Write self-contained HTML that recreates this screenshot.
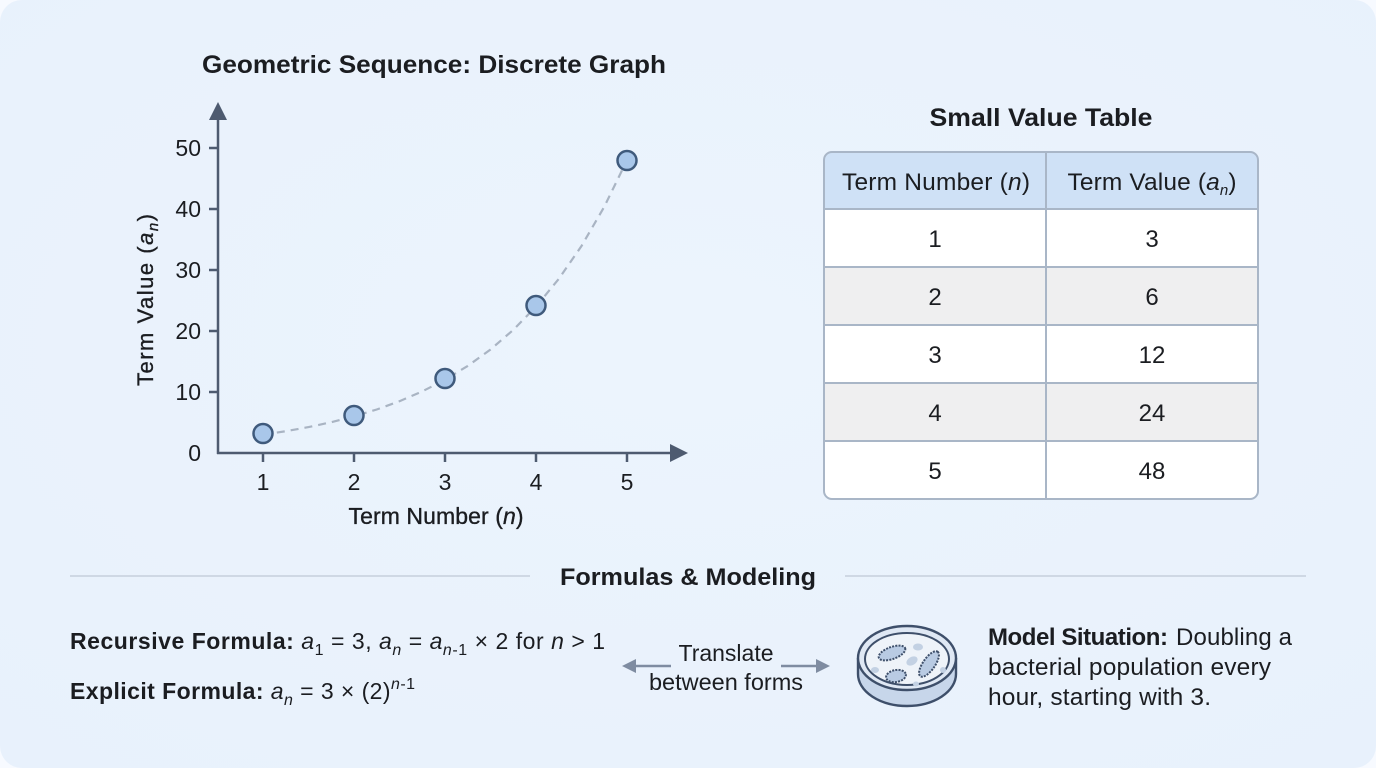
<!DOCTYPE html>
<html>
<head>
<meta charset="utf-8">
<style>
  html,body{margin:0;padding:0;background:#f7faff;}
  body{width:1376px;height:768px;overflow:hidden;}
  svg{display:block;}
  text{font-family:"Liberation Sans",Arial,sans-serif;fill:#1b1d21;}
</style>
</head>
<body>
<svg width="1376" height="768" viewBox="0 0 1376 768" xmlns="http://www.w3.org/2000/svg">
  <defs>
    <radialGradient id="bg" cx="50%" cy="45%" r="75%">
      <stop offset="0" stop-color="#ecf4fd"/>
      <stop offset="1" stop-color="#e8f1fc"/>
    </radialGradient>
  </defs>
  <rect x="0" y="0" width="1376" height="768" rx="22" ry="22" fill="url(#bg)"/>

  <!-- Chart title -->
  <text x="434" y="73" font-size="25" font-weight="bold" text-anchor="middle" textLength="464" lengthAdjust="spacingAndGlyphs">Geometric Sequence: Discrete Graph</text>

  <!-- Axes -->
  <g stroke="#4e5b70" stroke-width="2.5" fill="none">
    <line x1="218" y1="454" x2="218" y2="114"/>
    <line x1="217" y1="453" x2="674" y2="453"/>
    <line x1="209" y1="392" x2="218" y2="392"/>
    <line x1="209" y1="331" x2="218" y2="331"/>
    <line x1="209" y1="270" x2="218" y2="270"/>
    <line x1="209" y1="209" x2="218" y2="209"/>
    <line x1="209" y1="148" x2="218" y2="148"/>
    <line x1="263" y1="453" x2="263" y2="462"/>
    <line x1="354" y1="453" x2="354" y2="462"/>
    <line x1="445" y1="453" x2="445" y2="462"/>
    <line x1="536" y1="453" x2="536" y2="462"/>
    <line x1="627" y1="453" x2="627" y2="462"/>
  </g>
  <polygon points="218,102 209,120 227,120" fill="#4e5b70"/>
  <polygon points="688,453 670,444 670,462" fill="#4e5b70"/>

  <!-- y tick labels -->
  <g font-size="23" text-anchor="end">
    <text x="201" y="461">0</text>
    <text x="201" y="400">10</text>
    <text x="201" y="339">20</text>
    <text x="201" y="278">30</text>
    <text x="201" y="217">40</text>
    <text x="201" y="156">50</text>
  </g>
  <!-- x tick labels -->
  <g font-size="23" text-anchor="middle">
    <text x="263" y="490">1</text>
    <text x="354" y="490">2</text>
    <text x="445" y="490">3</text>
    <text x="536" y="490">4</text>
    <text x="627" y="490">5</text>
  </g>

  <!-- axis labels -->
  <text x="436" y="524" font-size="23" text-anchor="middle" stroke="#1b1d21" stroke-width="0.35" textLength="175">Term Number (<tspan font-style="italic">n</tspan>)</text>
  <text transform="translate(153,300) rotate(-90)" font-size="22" text-anchor="middle" stroke="#1b1d21" stroke-width="0.35" textLength="172">Term Value (<tspan font-style="italic">a</tspan><tspan font-style="italic" font-size="15" dy="5">n</tspan><tspan dy="-5">)</tspan></text>

  <!-- dashed curve -->
  <polyline fill="none" stroke="#a9b4c3" stroke-width="2.2" stroke-dasharray="8 6"
    points="263,434.7 285.75,431.2 308.5,427.1 331.25,422.2 354,416.4 376.75,409.5 399.5,401.2 422.25,391.4 445,379.8 467.75,365.9 490.5,349.5 513.25,329.9 536,306.6 558.75,278.9 581.5,246.0 604.25,206.8 627,160.2"/>

  <!-- points -->
  <g fill="#a9c7ea" stroke="#3f5a7c" stroke-width="2.5">
    <circle cx="263" cy="433.5" r="9.5"/>
    <circle cx="354" cy="415.5" r="9.5"/>
    <circle cx="445" cy="378.5" r="9.5"/>
    <circle cx="536" cy="305.5" r="9.5"/>
    <circle cx="627" cy="160.5" r="9.5"/>
  </g>

  <!-- Table title -->
  <text x="1041" y="126" font-size="25" font-weight="bold" text-anchor="middle" textLength="223" lengthAdjust="spacingAndGlyphs">Small Value Table</text>

  <!-- Table -->
  <clipPath id="tclip"><rect x="824" y="152" width="434" height="347" rx="8" ry="8"/></clipPath>
  <g clip-path="url(#tclip)">
    <rect x="824" y="152" width="434" height="57" fill="#cfe1f6"/>
    <rect x="824" y="209" width="434" height="58" fill="#ffffff"/>
    <rect x="824" y="267" width="434" height="58" fill="#efeff0"/>
    <rect x="824" y="325" width="434" height="58" fill="#ffffff"/>
    <rect x="824" y="383" width="434" height="58" fill="#efeff0"/>
    <rect x="824" y="441" width="434" height="58" fill="#ffffff"/>
  </g>
  <g stroke="#a9b6c7" stroke-width="2" fill="none">
    <line x1="824" y1="209" x2="1258" y2="209"/>
    <line x1="824" y1="267" x2="1258" y2="267"/>
    <line x1="824" y1="325" x2="1258" y2="325"/>
    <line x1="824" y1="383" x2="1258" y2="383"/>
    <line x1="824" y1="441" x2="1258" y2="441"/>
    <line x1="1046" y1="152" x2="1046" y2="499"/>
    <rect x="824" y="152" width="434" height="347" rx="8" ry="8"/>
  </g>
  <text x="936" y="190" font-size="24.5" text-anchor="middle" textLength="188">Term Number (<tspan font-style="italic">n</tspan>)</text>
  <text x="1152" y="190" font-size="24.5" text-anchor="middle" textLength="169">Term Value (<tspan font-style="italic">a</tspan><tspan font-style="italic" font-size="15" dy="5">n</tspan><tspan dy="-5">)</tspan></text>
  <g font-size="24" text-anchor="middle">
    <text x="935" y="247">1</text><text x="1152" y="247">3</text>
    <text x="935" y="305">2</text><text x="1152" y="305">6</text>
    <text x="935" y="363">3</text><text x="1152" y="363">12</text>
    <text x="935" y="421">4</text><text x="1152" y="421">24</text>
    <text x="935" y="479">5</text><text x="1152" y="479">48</text>
  </g>

  <!-- Divider -->
  <g stroke="#c6d0dc" stroke-width="1.6">
    <line x1="70" y1="576" x2="530" y2="576"/>
    <line x1="845" y1="576" x2="1306" y2="576"/>
  </g>
  <text x="688" y="585" font-size="24" font-weight="bold" text-anchor="middle" textLength="256" lengthAdjust="spacingAndGlyphs">Formulas &amp; Modeling</text>

  <!-- Formulas -->
  <text x="70" y="649" font-size="23" textLength="535"><tspan font-weight="bold">Recursive Formula:</tspan> <tspan font-style="italic">a</tspan><tspan font-size="16" dy="6">1</tspan><tspan dy="-6"> = 3, </tspan><tspan font-style="italic">a</tspan><tspan font-style="italic" font-size="16" dy="6">n</tspan><tspan dy="-6"> = </tspan><tspan font-style="italic">a</tspan><tspan font-style="italic" font-size="16" dy="6">n</tspan><tspan font-size="16">-1</tspan><tspan dy="-6"> × 2 for </tspan><tspan font-style="italic">n</tspan> &gt; 1</text>
  <text x="70" y="699" font-size="23" textLength="345"><tspan font-weight="bold">Explicit Formula:</tspan> <tspan font-style="italic">a</tspan><tspan font-style="italic" font-size="16" dy="6">n</tspan><tspan dy="-6"> = 3 × (2)</tspan><tspan font-style="italic" font-size="16" dy="-10">n</tspan><tspan font-size="16">-1</tspan></text>

  <!-- Translate arrows -->
  <g stroke="#7f8ca1" stroke-width="2.5" fill="none">
    <line x1="634" y1="666" x2="671" y2="666"/>
    <line x1="781" y1="666" x2="818" y2="666"/>
  </g>
  <polygon points="622,666 636,659 636,673" fill="#7f8ca1"/>
  <polygon points="830,666 816,659 816,673" fill="#7f8ca1"/>
  <text x="726" y="661" font-size="23" text-anchor="middle" textLength="95">Translate</text>
  <text x="726" y="690" font-size="23.5" text-anchor="middle" textLength="154">between forms</text>

  <!-- Petri dish -->
  <g stroke="#3e4f6a" stroke-width="2.4">
    <path d="M858,658 L858,674 A49,32 0 0 0 956,674 L956,658" fill="#c7d6ea"/>
    <ellipse cx="907" cy="658" rx="49" ry="32" fill="#dfe8f4"/>
    <ellipse cx="907" cy="659" rx="42" ry="26" fill="#eef3f9" stroke-width="2"/>
  </g>
  <g fill="#c3d1e3">
    <ellipse cx="918" cy="647" rx="5" ry="3.5"/>
    <ellipse cx="912" cy="661" rx="6" ry="4" transform="rotate(-30 912 661)"/>
    <ellipse cx="875" cy="670" rx="4" ry="3"/>
    <ellipse cx="943" cy="670" rx="3" ry="3"/>
    <ellipse cx="916" cy="684" rx="3" ry="2.5"/>
  </g>
  <g fill="#b9cbe3" stroke="#3e4f6a" stroke-width="2">
    <ellipse cx="892" cy="653" rx="14" ry="6" transform="rotate(-20 892 653)" stroke-dasharray="2 1.2"/>
    <ellipse cx="929" cy="664" rx="15" ry="6" transform="rotate(-55 929 664)" stroke-dasharray="2 1.2"/>
    <ellipse cx="896" cy="676" rx="10" ry="6" transform="rotate(-10 896 676)" stroke-dasharray="2 1.2"/>
  </g>

  <!-- Model situation -->
  <text x="988" y="645" font-size="24"><tspan font-weight="bold" textLength="180">Model Situation:</tspan><tspan x="1176" textLength="116">Doubling a</tspan></text>
  <text x="988" y="675" font-size="24.5" textLength="283">bacterial population every</text>
  <text x="988" y="705" font-size="24.5" textLength="223">hour, starting with 3.</text>
</svg>
</body>
</html>
